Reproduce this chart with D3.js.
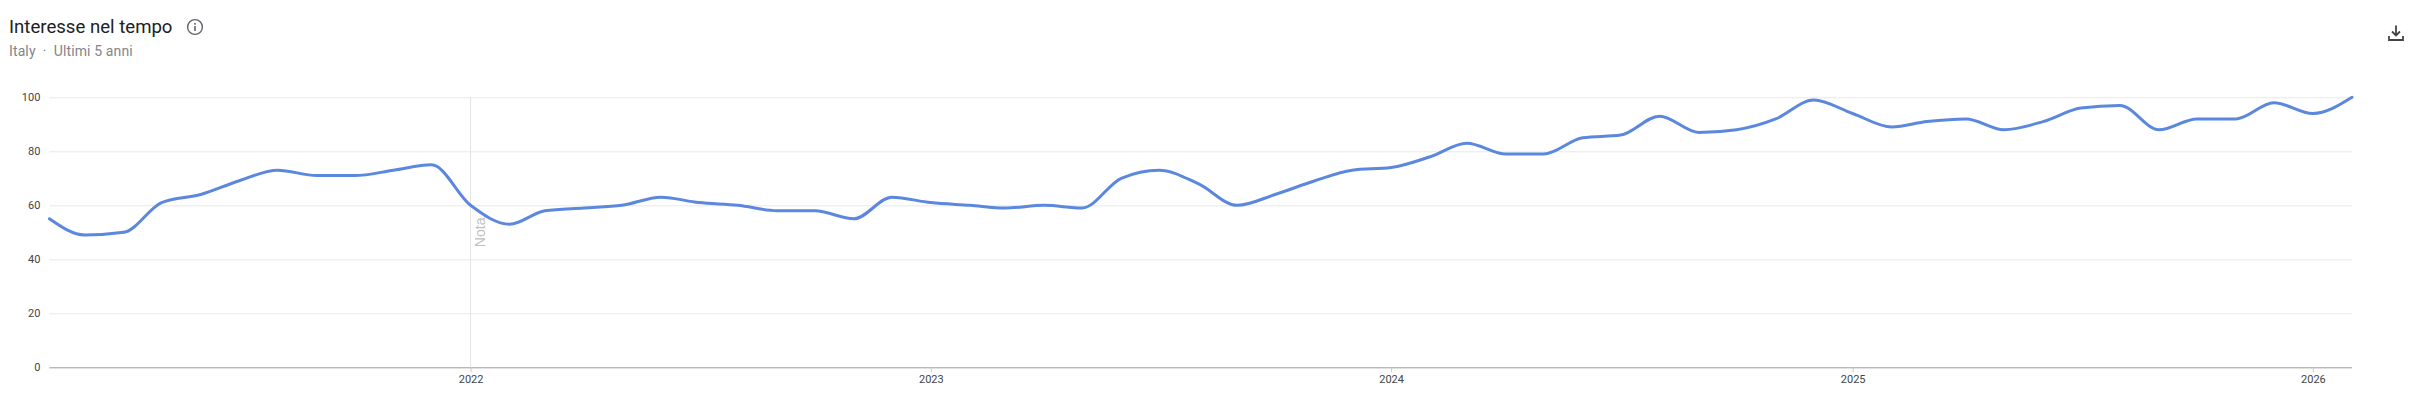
<!DOCTYPE html>
<html lang="it">
<head>
<meta charset="utf-8">
<title>Interesse nel tempo</title>
<script src="https://cdn.jsdelivr.net/npm/d3@7"></script>
<style>
html,body{margin:0;padding:0;background:#fff;overflow:hidden}
svg{display:block}
text{font-family:Roboto,"Noto Sans",sans-serif}
</style>
</head>
<body>
<div id="chart"></div>
<script>
const startMonth = "2021-02";
const values = [
  55,49,50,61,64,69,73,71,71,73,75,
  60,53,58,59,60,63,61,60,58,58,55,63,
  61,60,59,60,59,70,73,68,60,64,69,73,
  74,78,83,79,79,85,86,93,87,88,92,99,
  94,89,91,92,88,91,96,97,88,92,92,98,
  94,100
];
const yTicks = [0,20,40,60,80,100];
const xTickYears = [2022,2023,2024,2025,2026];
const titleText = "Interesse nel tempo";
const subtitleText = "Italy  ·  Ultimi 5 anni";
const noteLabel = "Nota";
const noteYear = 2022;

const W = 2416, H = 409;
const margin = {left:49.4, right:64, top:97.3, bottom:41.7};

const parseMonth = d3.utcParse("%Y-%m");
const start = parseMonth(startMonth);
const dates = values.map((_,i)=>d3.utcMonth.offset(start,i));
const series = values.map((v,i)=>({date:dates[i],value:v}));

const x = d3.scaleUtc().domain(d3.extent(dates)).range([margin.left,W-margin.right]);
const y = d3.scaleLinear().domain([0,100]).range([H-margin.bottom,margin.top]);

const svg = d3.select("#chart").append("svg").attr("width",W).attr("height",H);

// gridlines and y labels
const yAxis = svg.append("g")
  .attr("transform",`translate(${margin.left},0)`)
  .call(d3.axisLeft(y).tickValues(yTicks).tickSize(0).tickPadding(9).tickFormat(d3.format("d")));
yAxis.select(".domain").remove();
yAxis.selectAll("text").attr("font-size",11).attr("fill","#444")
  .style("font-family",'Roboto,sans-serif');
yAxis.selectAll("line")
  .attr("x2",W-margin.right-margin.left)
  .attr("stroke",d=>d===0?"#9a9a9a":"#e8e8e8")
  .attr("stroke-width",1);

// x axis
const xAxis = svg.append("g")
  .attr("transform",`translate(0,${y(0)})`)
  .call(d3.axisBottom(x)
    .tickValues(xTickYears.map(d=>new Date(Date.UTC(d,0,1))))
    .tickSize(5).tickPadding(3).tickFormat(d3.utcFormat("%Y")));
xAxis.select(".domain").remove();
xAxis.selectAll("text").attr("font-size",11).attr("fill","#444")
  .style("font-family",'Roboto,sans-serif');
xAxis.selectAll("line").attr("stroke","#c8c8c8");

// note marker
const noteX = x(new Date(Date.UTC(noteYear,0,1)));
svg.append("line")
  .attr("x1",noteX).attr("x2",noteX)
  .attr("y1",y(100)).attr("y2",y(0))
  .attr("stroke","#e4e4e4").attr("stroke-width",1);
svg.append("text")
  .attr("transform",`translate(${noteX+14},${y(44.5)}) rotate(-90)`)
  .attr("text-anchor","start")
  .attr("font-size",14).attr("font-weight",400)
  .attr("fill","#c0c0c0")
  .style("font-family",'"Liberation Sans",Arial,sans-serif')
  .text(noteLabel);

// line
const line = d3.line().x(d=>x(d.date)).y(d=>y(d.value)).curve(d3.curveMonotoneX);
svg.append("path").datum(series)
  .attr("d",line).attr("fill","none")
  .attr("stroke","#5b88de").attr("stroke-width",3)
  .attr("stroke-linecap","round").attr("stroke-linejoin","round");

// title
svg.append("text").attr("x",9).attr("y",33)
  .attr("font-size",18.6).attr("fill","#202124").text(titleText);
svg.append("text").attr("x",9).attr("y",56)
  .attr("font-size",14).attr("letter-spacing",0.12).attr("fill","#80868b")
  .attr("xml:space","preserve").style("white-space","pre").text(subtitleText);

// info icon
const info = svg.append("g").attr("transform","translate(195,27)");
info.append("circle").attr("r",7.4).attr("fill","none").attr("stroke","#5f6368").attr("stroke-width",1.4);
info.append("rect").attr("x",-0.8).attr("y",-1).attr("width",1.6).attr("height",5).attr("fill","#5f6368");
info.append("rect").attr("x",-0.8).attr("y",-4).attr("width",1.6).attr("height",1.7).attr("fill","#5f6368");

// download icon
const dl = svg.append("g").attr("transform","translate(2396,33)")
  .attr("fill","none").attr("stroke","#444").attr("stroke-width",1.8);
dl.append("path").attr("d","M0,-7.5V2.5M-4,-1.5L0,2.5L4,-1.5");
dl.append("path").attr("d","M-7,3V7H7V3");
</script>
</body>
</html>
